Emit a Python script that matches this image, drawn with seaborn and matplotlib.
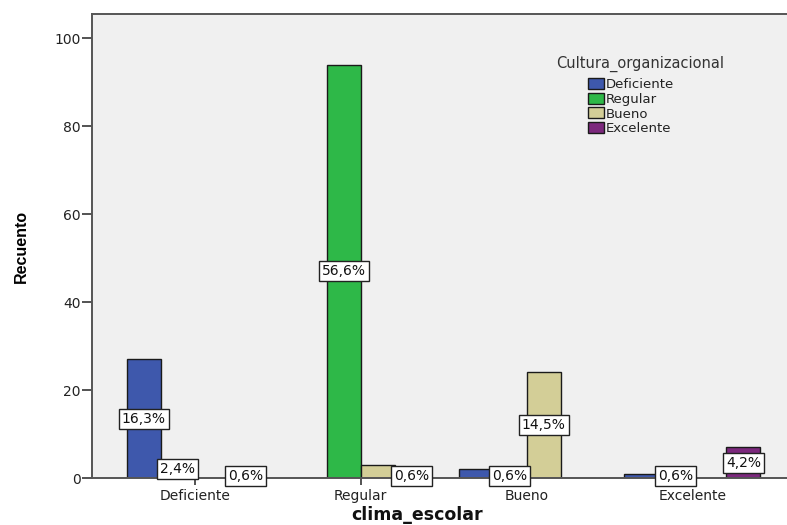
import matplotlib
matplotlib.use("Agg")
import matplotlib.pyplot as plt
import seaborn as sns
import pandas as pd

categories = ["Deficiente", "Regular", "Bueno", "Excelente"]
series_names = ["Deficiente", "Regular", "Bueno", "Excelente"]
deficiente = [27, 0, 2, 1]
regular = [4, 94, 1, 1]
bueno = [0, 3, 24, 0]
excelente = [1, 1, 0, 7]
total_n = 166
# which bars carry a percentage label (per series, per category)
show_deficiente = [True, False, False, False]
show_regular = [True, True, True, True]
show_bueno = [False, False, True, False]
show_excelente = [True, True, False, True]

colors = ["#3E58AC", "#2EB848", "#D3CE97", "#7C287D"]

series_values = [deficiente, regular, bueno, excelente]
series_show = [show_deficiente, show_regular, show_bueno, show_excelente]

rows = []
for name, vals in zip(series_names, series_values):
    for cat, v in zip(categories, vals):
        rows.append({"clima_escolar": cat, "Cultura_organizacional": name, "Recuento": v})
df = pd.DataFrame(rows)

sns.set_style("white")
plt.rcParams["font.family"] = ["DejaVu Sans"]

fig = plt.figure(figsize=(7.87, 5.25), dpi=100)
ax = fig.add_axes([92 / 787, 1 - 478 / 525, 1 - 92 / 787, (478 - 14) / 525])
ax.set_facecolor("#F0F0F0")

sns.barplot(data=df, x="clima_escolar", y="Recuento", hue="Cultura_organizacional",
            order=categories, hue_order=series_names, palette=colors,
            width=0.82, gap=0, edgecolor="#1a1a1a", linewidth=1.0,
            saturation=1, errorbar=None, ax=ax)

for cont, vals, show in zip(ax.containers, series_values, series_show):
    labels = []
    for v, s in zip(vals, show):
        if s:
            labels.append(f"{100 * v / total_n:.1f}%".replace(".", ","))
        else:
            labels.append("")
    ax.bar_label(cont, labels=labels, label_type="center", fontsize=10, color="#111111",
                 bbox=dict(boxstyle="square,pad=0.22", facecolor="white",
                           edgecolor="#222222", linewidth=1.0))

ax.set_ylim(0, 105.5)
ax.set_xlim(-0.62, 3.57)
ax.set_yticks([0, 20, 40, 60, 80, 100])
ax.tick_params(axis="y", direction="out", length=7, width=1.3, color="#444444",
               labelsize=10, pad=1, left=True, labelcolor="#222222")
ax.tick_params(axis="x", direction="out", length=5, width=1.3, color="#444444",
               labelsize=10, pad=3, bottom=True, labelcolor="#222222")
for side in ["left", "bottom", "top"]:
    ax.spines[side].set_color("#555555")
    ax.spines[side].set_linewidth(1.4)
ax.spines["right"].set_visible(False)

ax.set_ylabel("Recuento", fontsize=11.5, fontweight="bold", color="#000000",
              family=["Liberation Sans", "DejaVu Sans"])
ax.yaxis.set_label_coords(-(92 - 29) / 695, 0.5)
ax.set_xlabel("clima_escolar", fontsize=12.5, fontweight="bold", va="top", color="#111111")
ax.xaxis.set_label_coords((417 - 92) / 695, -(506 - 478) / 464)

leg = ax.legend(loc="upper left",
                bbox_to_anchor=(588 / 787, 1 - 78 / 525), bbox_transform=fig.transFigure,
                frameon=False, fontsize=9.5,
                handlelength=1.2, handleheight=0.9, handletextpad=0.15,
                labelspacing=0.13, borderaxespad=0, borderpad=0)
for t in leg.get_texts():
    t.set_color("#222222")
for h in leg.legend_handles:
    h.set_edgecolor("#1a1a1a")
fig.text(640 / 787, 1 - 64 / 525, "Cultura_organizacional", ha="center", va="center",
         fontsize=10.5, color="#333333")

fig.savefig("out.png", dpi=100)
